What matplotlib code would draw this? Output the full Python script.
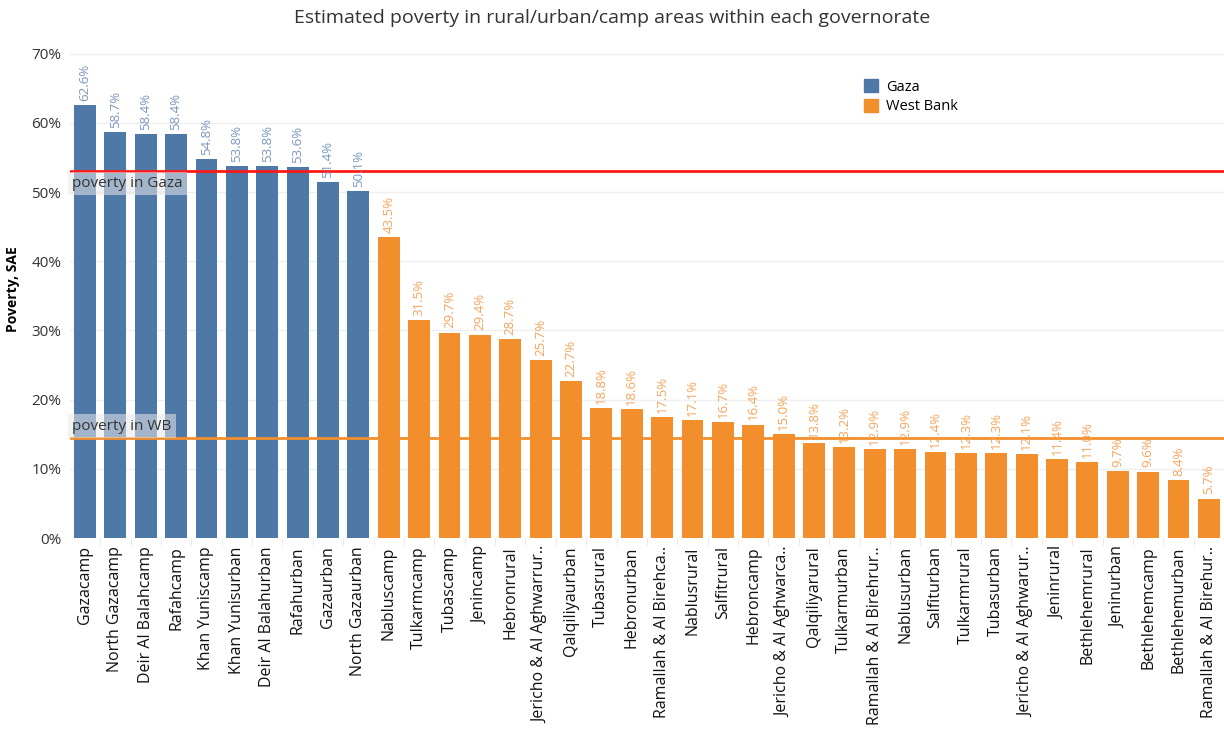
"""Estimated poverty by area type within each governorate."""
import matplotlib.pyplot as plt
from matplotlib.patches import Patch
from matplotlib.ticker import PercentFormatter

gaza_areas = [
    "Gazacamp", "North Gazacamp", "Deir Al Balahcamp", "Rafahcamp",
    "Khan Yuniscamp", "Khan Yunisurban", "Deir Al Balahurban", "Rafahurban",
    "Gazaurban", "North Gazaurban",
]
gaza_poverty = [62.6, 58.7, 58.4, 58.4, 54.8, 53.8, 53.8, 53.6, 51.4, 50.1]

wb_areas = [
    "Nabluscamp", "Tulkarmcamp", "Tubascamp", "Jenincamp", "Hebronrural",
    "Jericho & Al Aghwarrur..", "Qalqiliyaurban", "Tubasrural", "Hebronurban",
    "Ramallah & Al Birehca..", "Nablusrural", "Salfitrural", "Hebroncamp",
    "Jericho & Al Aghwarca..", "Qalqiliyarural", "Tulkarmurban",
    "Ramallah & Al Birehrur..", "Nablusurban", "Salfiturban", "Tulkarmrural",
    "Tubasurban", "Jericho & Al Aghwarur..", "Jeninrural", "Bethlehemrural",
    "Jeninurban", "Bethlehemcamp", "Bethlehemurban", "Ramallah & Al Birehur..",
]
wb_poverty = [
    43.5, 31.5, 29.7, 29.4, 28.7, 25.7, 22.7, 18.8, 18.6, 17.5, 17.1, 16.7,
    16.4, 15.0, 13.8, 13.2, 12.9, 12.9, 12.4, 12.3, 12.3, 12.1, 11.4, 11.0,
    9.7, 9.6, 8.4, 5.7,
]

poverty_gaza_avg = 53.1
poverty_wb_avg = 14.4

GAZA_COLOR = "#4e79a7"
WB_COLOR = "#f28e2b"
GAZA_LABEL = "#7b97bf"
WB_LABEL = "#f5a55c"


def main():
    plt.rcParams["font.family"] = ["Open Sans", "DejaVu Sans"]
    fig = plt.figure(figsize=(12.24, 7.49), dpi=100)
    ax = fig.add_axes([0.057, 0.2817, 0.943, 0.665])

    areas = gaza_areas + wb_areas
    values = gaza_poverty + wb_poverty
    colors = [GAZA_COLOR] * len(gaza_areas) + [WB_COLOR] * len(wb_areas)
    label_colors = [GAZA_LABEL] * len(gaza_areas) + [WB_LABEL] * len(wb_areas)
    x = list(range(len(areas)))

    ax.bar(x, values, width=0.72, color=colors, zorder=2)
    for xi, v, c in zip(x, values, label_colors):
        ax.text(xi, v + 0.6, f"{v:.1f}%", rotation=90, ha="center",
                va="bottom", fontsize=9.5, color=c, zorder=4)

    # reference lines
    ax.axhline(poverty_gaza_avg, color="#ff1a1a", lw=2, zorder=3)
    ax.axhline(poverty_wb_avg, color=WB_COLOR, lw=2, zorder=3)
    box = dict(facecolor="#e8e8e8", alpha=0.55, edgecolor="none", pad=3)
    ax.text(-0.42, poverty_gaza_avg - 0.8, "poverty in Gaza", ha="left",
            va="top", fontsize=11, color="#333333", bbox=box, zorder=5)
    ax.text(-0.42, poverty_wb_avg + 0.7, "poverty in WB", ha="left",
            va="bottom", fontsize=11, color="#333333", bbox=box, zorder=5)

    ax.set_xlim(-0.5, 35.4)
    ax.set_ylim(0, 72)
    ax.set_yticks(range(0, 71, 10))
    ax.yaxis.set_major_formatter(PercentFormatter(decimals=0))
    ax.set_xticks(x, labels=areas, rotation=90, fontsize=11.5)
    ax.set_xticks([i + 0.5 for i in x], minor=True)
    ax.tick_params(axis="x", which="major", length=0, pad=6, colors="#111111")
    ax.tick_params(axis="x", which="minor", length=5, color="#e6e6e6")
    ax.tick_params(axis="y", length=0, labelsize=11, labelcolor="#333333", pad=6)
    ax.grid(axis="y", color="#efefef", lw=1, zorder=0)
    for spine in ax.spines.values():
        spine.set_visible(False)

    ax.set_ylabel("Poverty, SAE", fontsize=10, fontweight="bold", labelpad=8)
    fig.suptitle("Estimated poverty in rural/urban/camp areas within each governorate",
                 x=0.5, y=0.988, fontsize=14, color="#333333")

    handles = [Patch(color=GAZA_COLOR, label="Gaza"),
               Patch(color=WB_COLOR, label="West Bank")]
    fig.legend(handles=handles, loc="upper left", bbox_to_anchor=(0.695, 0.912),
               frameon=False, fontsize=10.5, handlelength=1.0, handleheight=1.0,
               handletextpad=0.5, labelspacing=0.3)

    fig.savefig("out.png")
    plt.close(fig)


if __name__ == "__main__":
    main()
